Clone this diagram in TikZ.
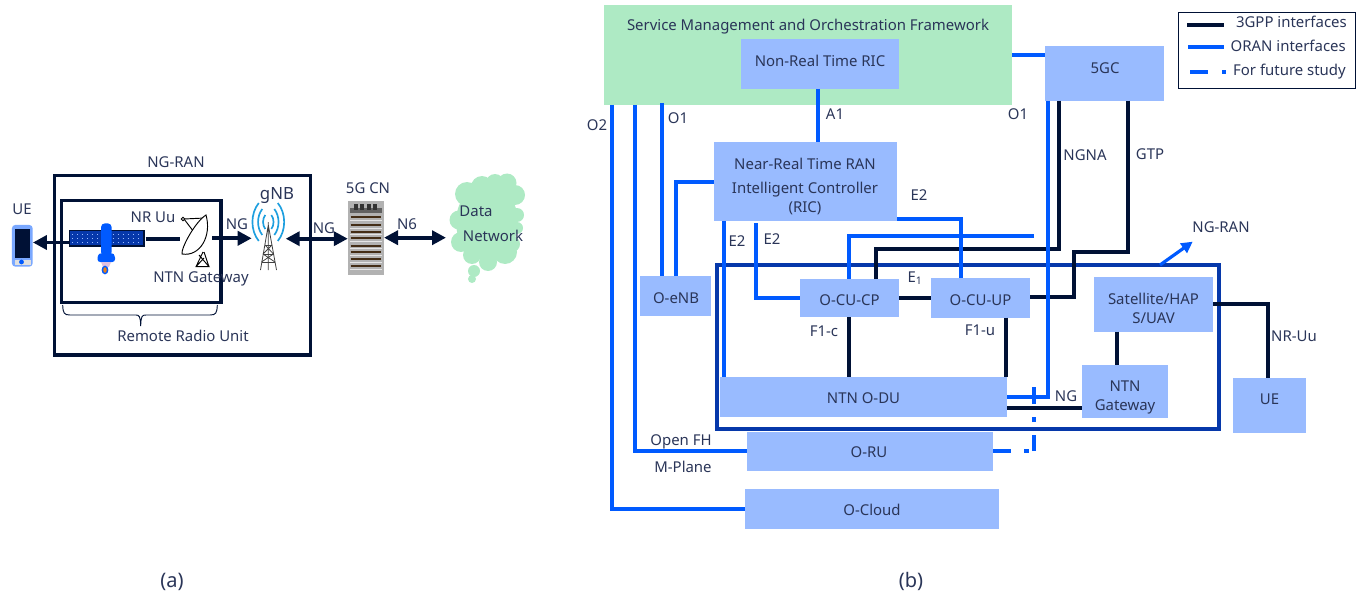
\documentclass[tikz,border=0pt]{standalone}
\usepackage{fontspec}
\setmainfont{Noto Sans}
\usetikzlibrary{arrows.meta,calc}
\definecolor{navy}{HTML}{001135}
\definecolor{oblue}{HTML}{005AFF}
\definecolor{lbox}{HTML}{99BBFF}
\definecolor{mint}{HTML}{AEEAC4}
\definecolor{frameb}{HTML}{0638AA}
\definecolor{txt}{HTML}{2A3558}
\definecolor{sky}{HTML}{1E9FDF}
\tikzset{
  lbl/.style={font=\fontsize{11.2}{14}\selectfont,text=txt,align=center,inner sep=0pt,yshift=-1pt},
  caplbl/.style={font=\fontsize{15}{18}\selectfont,text=txt,inner sep=0pt,yshift=-1.2pt},
  boxn/.style={fill=lbox,inner sep=0pt,outer sep=0pt},
  gpp/.style={draw=navy,line width=3pt},
  oran/.style={draw=oblue,line width=3pt},
  fat/.style={draw=navy,line width=2.8pt},
  tipR/.style={-{Triangle[length=10.5pt,width=10.5pt]}},
  tipLR/.style={{Triangle[length=10.5pt,width=10.5pt]}-{Triangle[length=10.5pt,width=10.5pt]}},
}
\newcommand{\bx}[9][lbox]{%
  \node[boxn,fill=#1,minimum width={(#4-#2)*0.75pt},minimum height={(#5-#3)*0.75pt},
    label={[lbl,xshift={(#6)*0.75pt},yshift={-(#7)*0.75pt}]center:{#8}}]
    (#9) at ({(#2+#4)/2},{(#3+#5)/2}) {};}
\begin{document}
\begin{tikzpicture}[x=0.75pt,y=-0.75pt]
\useasboundingbox (0,0) rectangle (1363,599);

% ---------- (a) ----------
\node[draw=navy,line width=2.4pt,minimum width={256.4*0.75pt},minimum height={179.3*0.75pt},inner sep=0pt] (ngran) at (182.5,265.3) {};
\node[draw=navy,line width=2.4pt,minimum width={159.7*0.75pt},minimum height={102*0.75pt},inner sep=0pt] (rru) at (141.2,251.3) {};
\node[lbl] (lngran) at (176,161) {NG-RAN};
\node[lbl] (lue) at (22,208) {UE};
\node[lbl] (lnruu) at (153,216) {NR Uu};
\node[lbl,font=\fontsize{12.6}{14}\selectfont] (lgnb) at (277,194) {gNB};
\node[lbl] (lng1) at (237,223) {NG};
\node[lbl] (lntn) at (201,278) {NTN Gateway};
\node[lbl] (lrru) at (183,335) {Remote Radio Unit};
\node[lbl] (lng2) at (324,227) {NG};
\node[lbl] (l5gcn) at (368,187) {5G CN};
\node[lbl] (ln6) at (407,223) {N6};

% brace
\draw[navy,line width=0.7pt] (62.7,305) .. controls (63,313) and (64,315) .. (70,315) -- (136,315) .. controls (139,315) and (140.5,316) .. (140.7,326)
  .. controls (141,316) and (142,315) .. (146,315) -- (210,315) .. controls (216,315) and (217,313) .. (217.3,305);

% phone
\node[fill=lbox!80!oblue,rounded corners=2.5pt,minimum width={20.7*0.75pt},minimum height={41.7*0.75pt},inner sep=0pt] (phone) at (22.3,245.8) {};
\fill[navy] (15,228.5) rectangle (30,258);
\fill[black!12] (14.5,259.5) rectangle (30.5,265);
\fill[oblue] (21.5,262) circle (2.4);

% satellite
\coordinate (satL) at (70,242.5);
\coordinate (phoneR) at (phone.east |- satL);
\draw[fat,tipR] (satL) -- (phoneR);
\node[draw=navy,fill=frameb,line width=0.9pt,minimum width={74.7*0.75pt},minimum height={15.3*0.75pt},inner sep=0pt] (panels) at (106.6,238.4) {};
\foreach \yy in {234.5,238.5,242.5} \draw[lbox,line width=0.3pt,dash pattern=on 0.8pt off 3pt] (72,\yy) -- (142,\yy);
\fill[oblue,rounded corners=3pt] (101,223.3) rectangle (111.7,256);
\fill[oblue,rounded corners=2pt] (97.5,262) -- (97.5,255) -- (101,253) -- (111.7,253) -- (115,255) -- (115,262) -- cycle;
\fill[violet!25] (101,262) -- (111,262) -- (109,267) -- (103,267) -- cycle;
\fill[oblue] (105,270) ellipse (3.4 and 4.4);
\fill[orange!70!brown] (105,270) ellipse (1.7 and 2.8);

% dish
\coordinate (dishL) at (180,238.7);
\draw[navy,line width=3pt] (panels.east |- dishL) ++(1,0) -- (dishL);
\begin{scope}[line width=0.7pt,draw=black]
\draw (184,219) -- (205,218);
\draw (184,219) -- (200,240);
\draw[fill=white] (206,215) .. controls (212,236) and (200,257) .. (182,254) .. controls (181,248) and (195,222) .. (206,215) -- cycle;
\draw[fill=white] (183,219) circle (1.8);
\draw (203,252) -- (196,266.7) -- (209,266.7) -- (199,255) (204,252) -- (209,266.7) (196,266.7) -- (204,258);
\end{scope}
\coordinate (dishR) at (212.3,238.3);
\coordinate (towerL) at (251.7,238.3);
\draw[fat,tipR] (dishR) -- (towerL);

% tower
\begin{scope}[black!75,line width=0.6pt]
\draw (268.3,225) -- (260.5,270) (268.3,225) -- (276.5,270) (268.3,222) -- (268.3,270);
\draw (265,245) -- (272,245) (263,254) -- (273.5,254) (261.5,262) -- (275,262);
\draw (265,245) -- (273.5,254) (272,245) -- (263,254) (263,254) -- (275,262) (273.5,254) -- (261.5,262);
\end{scope}
\foreach \a/\b/\h in {3/5/7,6/9.7/13,9.5/15/19}{
  \draw[sky,line width=1.25pt] ({268.3+\a},{222-\h}) .. controls ({268.3+\b*1.2},{222-\h*0.45}) and ({268.3+\b*1.2},{222+\h*0.45}) .. ({268.3+\a},{222+\h});
  \draw[sky,line width=1.25pt] ({268.3-\a},{222-\h}) .. controls ({268.3-\b*1.2},{222-\h*0.45}) and ({268.3-\b*1.2},{222+\h*0.45}) .. ({268.3-\a},{222+\h});
}

% server
\node[fill=black!30,minimum width={35.7*0.75pt},minimum height={74*0.75pt},inner sep=0pt] (server) at (365.9,237.7) {};
\fill[black!62] (350,208) rectangle (381.5,213);
\foreach \xx in {356,362,369,375} \fill[black!80] (\xx-1.7,204) rectangle (\xx+1.7,210);
\foreach \yy in {217.3,225,231.7,238.3,245.7,252.3,259,266}{
  \draw[black!65!brown,line width=1.5pt] (350.7,\yy) -- (380.7,\yy);
  \draw[black!10,line width=0.6pt] (350,\yy+3) -- (381.5,\yy+3);
}
\coordinate (towerR) at (285.7,238.7);
\draw[fat,tipLR] (towerR) -- (server.west |- towerR);

% cloud
\coordinate (cloudL) at (446,237.7);
\draw[fat,tipLR] (server.east |- cloudL) -- (cloudL);
\begin{scope}[mint]
\fill (487,222) ellipse (31 and 38);
\foreach \cx/\cy/\cr in {467/194/12,482/187/11,495/183/9,507/183/9.5,515/195/10,517/215/7,517/228/6,459/220/9.5,461/242/10,472/255/9,488/262/9,505/252/12,512/244/8,474/271/6,472/279/4}
  \fill (\cx,\cy) circle (\cr);
\end{scope}
\node[lbl] (ldata) at (476,210) {Data};
\node[lbl] (lnet) at (493,235) {Network};

\node[caplbl] (capa) at (172,580) {(a)};
\node[caplbl] (capb) at (911,580) {(b)};

% ---------- (b) boxes ----------
\bx[mint]{604}{5}{1012}{105}{0}{0}{}{smo}
\node[lbl] (smot) at (808,25) {Service Management and Orchestration Framework};
\bx{741}{39}{899}{89}{0}{-4}{Non-Real Time RIC}{nonrt}
\bx{714}{142}{897}{221}{-0.5}{3.5}{Near-Real Time RAN\\[4pt]Intelligent Controller\\(RIC)}{nrt}
\bx{1045}{46}{1164}{100.7}{0.5}{-7}{5GC}{fivegc}
\bx{640}{276}{711}{316}{0.5}{0.7}{O-eNB}{oenb}
\bx{800}{279}{899}{317}{0}{1.3}{O-CU-CP}{cucp}
\bx{931}{278}{1030}{317.7}{0}{1}{O-CU-UP}{cuup}
\bx{720}{377}{1007}{416.7}{0}{0}{NTN O-DU}{odu}
\bx{747}{431.7}{993}{470.7}{-1}{0}{O-RU}{oru}
\bx{745}{489}{999}{529}{0}{0}{O-Cloud}{ocloud}
\bx{1094}{277}{1213}{331.7}{0}{3}{Satellite/HAP\\S/UAV}{sathap}
\bx{1082}{365}{1168}{417.7}{0}{4.5}{NTN\\Gateway}{ntngw}
\bx{1233}{378}{1306}{432.7}{0}{-7}{UE}{ue}

% frame
\node[draw=frameb,line width=3pt,minimum width={501.7*0.75pt},minimum height={163.7*0.75pt},inner sep=0pt] (frame) at (967.9,347) {};

% 3GPP connectors
\draw[gpp] (cucp.east |- 0,297.7) -- (cuup.west |- 0,297.7);
\draw[gpp] (849.3,317) -- (849.3,377);
\draw[gpp] (1006.3,317.7) -- (1006.3,377);
\draw[gpp] (1059,100.7) -- (1059,249.3) -- (876,249.3) -- (876,279);
\draw[gpp] (1128,100.7) -- (1128,252.3) -- (1074,252.3) -- (1074,297.3) -- (cuup.east |- 0,297.3);
\draw[gpp] (odu.east |- 0,408.3) -- (ntngw.west |- 0,408.3);
\draw[gpp] (1117.3,331.7) -- (1117.3,365);
\draw[gpp] (sathap.east |- 0,304.3) -- (1268,304.3) -- (1268,378);

% ORAN connectors
\draw[oran] (817.7,89) -- (817.7,142);
\draw[oran] (611.7,105) -- (611.7,509) -- (ocloud.west |- 0,509);
\draw[oran] (635,105) -- (635,451) -- (oru.west |- 0,451);
\draw[oran] (662,103) -- (662,276);
\draw[oran] (nrt.west |- 0,182) -- (675.7,182) -- (675.7,276);
\draw[oran] (724.3,221) -- (724.3,377);
\draw[oran] (756,223) -- (756,297.7) -- (cucp.west |- 0,297.7);
\draw[oran] (nrt.east |- 0,218.5) -- (961,218.5) -- (961,278);
\draw[oran] (1034,236) -- (849,236) -- (849,279);
\draw[oran] (smo.east |- 0,55) -- (fivegc.west |- 0,55);
\draw[oran] (1048,100.7) -- (1048,397) -- (odu.east |- 0,397);
\draw[oran,dash pattern=on 13.5pt off 9.75pt on 3.75pt off 3.75pt on 12pt off 9.75pt on 3.75pt off 9.75pt on 12.75pt off 400pt]
  (oru.east |- 0,451) -- (1034,451) -- (1034,387);

% NG-RAN pointer
\coordinate (ngranTip) at (1192.7,241.7);
\draw[draw=oblue,line width=2.4pt,-{Triangle[length=8.5pt,width=8.5pt]}] (1160,265) -- (ngranTip);

% (b) labels
\node[lbl] (lo2) at (597,124) {O2};
\node[lbl] (lo1a) at (678,117) {O1};
\node[lbl] (la1) at (835,113) {A1};
\node[lbl] (le2c) at (919,194) {E2};
\node[lbl] (le2a) at (737,240) {E2};
\node[lbl] (le2b) at (772,238) {E2};
\node[lbl] (lo1b) at (1018,113) {O1};
\node[lbl] (lngna) at (1085,154) {NGNA};
\node[lbl] (lgtp) at (1150,153) {GTP};
\node[lbl] (lngr) at (1221,226) {NG-RAN};
\node[lbl] (le1) at (915,277) {E\textsubscript{1}};
\node[lbl] (lf1c) at (824,330) {F1-c};
\node[lbl] (lf1u) at (980,329) {F1-u};
\node[lbl] (lofh) at (681,441) {Open FH};
\node[lbl] (lmp) at (683,466) {M-Plane};
\node[lbl] (lngb) at (1066,395) {NG};
\node[lbl] (lnru) at (1294,335) {NR-Uu};

% legend
\node[draw=navy,line width=0.9pt,minimum width={177.4*0.75pt},minimum height={76*0.75pt},inner sep=0pt] (legend) at (1267,50.3) {};
\coordinate (la) at (1187,24.7); \coordinate (lb) at (1224,24.7);
\draw[gpp] (la) -- (lb);
\coordinate (lc) at (1188,47.3); \coordinate (ld) at (1224,47.3);
\draw[oran] (lc) -- (ld);
\coordinate (le) at (1190,72.3); \coordinate (lf) at (1226,72.3);
\draw[oran,dash pattern=on 13.5pt off 10.5pt on 3pt off 10pt] (le) -- (lf);
\node[lbl,anchor=east] (lg1) at (1347,21) {3GPP interfaces};
\node[lbl,anchor=east] (lg2) at (1346,45) {ORAN interfaces};
\node[lbl,anchor=east] (lg3) at (1346,70) {For future study};
\end{tikzpicture}
\end{document}
